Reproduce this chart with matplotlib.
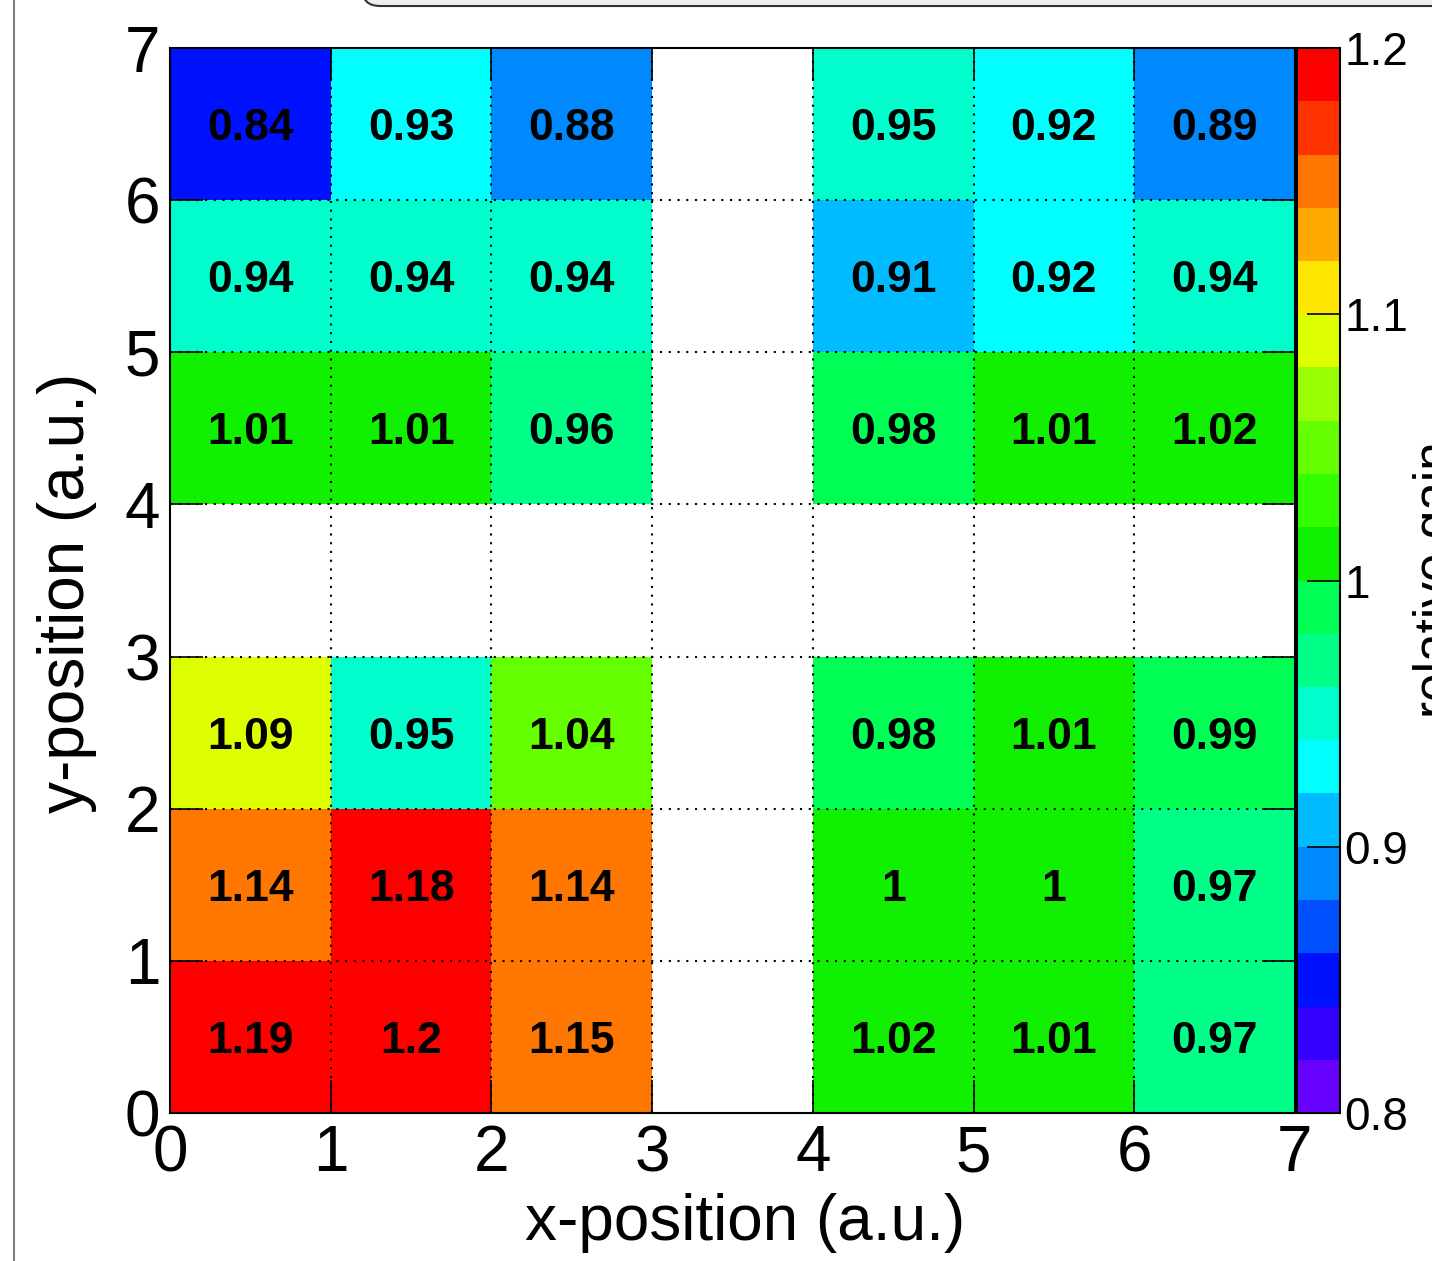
import numpy as np
import matplotlib
matplotlib.use("Agg")
import matplotlib.pyplot as plt
from matplotlib.colors import ListedColormap, BoundaryNorm
from matplotlib.patches import FancyBboxPatch
from matplotlib.lines import Line2D
from matplotlib.transforms import IdentityTransform

plt.rcParams['font.family'] = ['Liberation Sans', 'DejaVu Sans']

nan = np.nan

# pad grid, rows go from y=0 (bottom) up to y=6 (top)
x_edges = np.arange(8)
y_edges = np.arange(8)
gain = np.array([
    [1.19, 1.20, 1.15, nan, 1.018, 1.01, 0.97],
    [1.14, 1.18, 1.14, nan, 1.00,  1.00, 0.97],
    [1.09, 0.95, 1.04, nan, 0.98,  1.01, 0.99],
    [nan,  nan,  nan,  nan, nan,   nan,  nan],
    [1.01, 1.01, 0.96, nan, 0.98,  1.01, 1.018],
    [0.94, 0.94, 0.94, nan, 0.91,  0.92, 0.94],
    [0.84, 0.93, 0.88, nan, 0.95,  0.92, 0.89],
])

# rainbow palette, 20 bands from 0.80 to 1.20
palette = ['#6600ff', '#3300ff', '#0011ff', '#0050ff', '#0088ff',
           '#00bbff', '#00ffff', '#00ffcc', '#00ff88', '#00ff55',
           '#11f000', '#33ff00', '#66ff00', '#99ff00', '#ddff00',
           '#ffe600', '#ffaa00', '#ff7700', '#ff3300', '#ff0000']
levels = np.round(np.linspace(0.8, 1.2, 21), 2)
cbar_ticks = [0.8, 0.9, 1.0, 1.1, 1.2]
cbar_labels = ['0.8', '0.9', '1', '1.1', '1.2']

W, H = 1432, 1261
fig = plt.figure(figsize=(W / 100, H / 100), dpi=100)
ax = fig.add_axes([170 / W, 1 - 1113 / H, 1125 / W, 1065 / H])
cax = fig.add_axes([1297 / W, 1 - 1113 / H, 43 / W, 1065 / H])

cmap = ListedColormap(palette)
cmap.set_over(palette[-1])
cmap.set_under(palette[0])
cmap.set_bad('white')
norm = BoundaryNorm(levels, cmap.N)

mesh = ax.pcolormesh(x_edges, y_edges, np.ma.masked_invalid(gain),
                     cmap=cmap, norm=norm, zorder=1)

# dotted grid on top of the cells
for v in range(1, 7):
    ax.axvline(v, color='black', lw=1.5, ls=(0, (1, 3.2)), zorder=2)
    ax.axhline(v, color='black', lw=1.5, ls=(0, (1, 3.2)), zorder=2)

for j in range(gain.shape[0]):
    for i in range(gain.shape[1]):
        v = gain[j, i]
        if np.isnan(v):
            continue
        ax.text(i + 0.5, j + 0.47, f"{round(v, 2):g}", ha='center', va='center',
                fontsize=32, fontweight='bold', color='black', zorder=3)

ax.set_xlim(0, 7)
ax.set_ylim(0, 7)
ax.set_xticks(range(8))
ax.set_yticks(range(8))
ax.tick_params(direction='in', length=24, width=1.2, top=True, right=True,
               labelsize=46)
ax.tick_params(axis='x', pad=8)
ax.tick_params(axis='y', pad=7)
for s in ax.spines.values():
    s.set_linewidth(1.5)

cb = fig.colorbar(mesh, cax=cax, ticks=cbar_ticks)
cb.ax.set_yticklabels(cbar_labels)
cax.tick_params(direction='in', length=24, width=1.2, labelsize=33, pad=3)
cax.minorticks_off()
cb.outline.set_linewidth(1.5)

fig.text(745 / W, 1 - 1223 / H, 'x-position (a.u.)', ha='center', va='center',
         fontsize=46)
fig.text(67 / W, 1 - 593 / H, 'y-position (a.u.)', ha='center', va='center',
         fontsize=46, rotation=90)
fig.text(1413 / W, 1 - 580 / H, 'relative gain', ha='left', va='center',
         fontsize=37, rotation=90)

# canvas edge and the title box peeking in at the top
fig.add_artist(Line2D([14, 14], [0, H], transform=IdentityTransform(),
                      color='#808080', lw=1.5))
fig.add_artist(FancyBboxPatch((362, H - 6), 1200, 100,
                              boxstyle='round,pad=0,rounding_size=18',
                              transform=IdentityTransform(),
                              facecolor='#eeeeee', edgecolor='#333333', lw=1.5))

fig.savefig('out.png', dpi=100)
